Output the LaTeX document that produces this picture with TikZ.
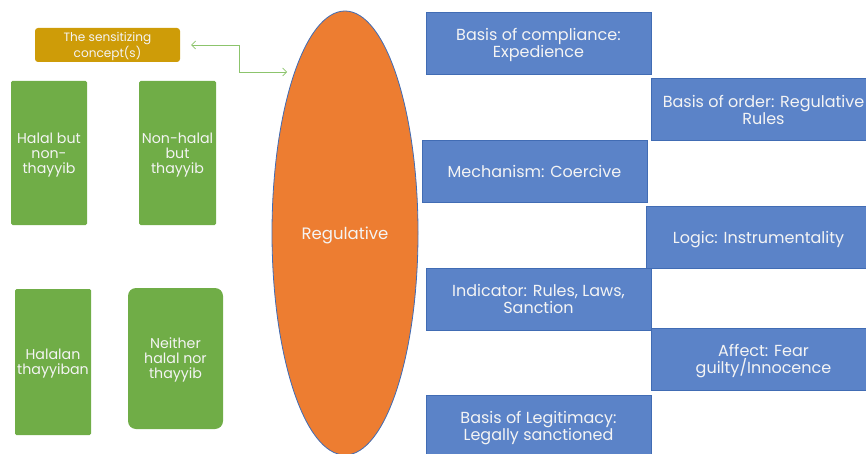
\documentclass[tikz,border=0pt]{standalone}
\usepackage{fontspec}
\setmainfont{Poppins}
\usetikzlibrary{shapes.geometric,arrows.meta}

\definecolor{boxblue}{RGB}{91,131,200}
\definecolor{edgeblue}{RGB}{65,108,180}
\definecolor{regorange}{RGB}{237,125,49}
\definecolor{leafgreen}{RGB}{112,173,71}
\definecolor{conceptgold}{RGB}{206,156,8}
\definecolor{linkgreen}{RGB}{140,196,108}
\definecolor{paletext}{RGB}{244,244,244}

\tikzset{
  every node/.style={text depth=0pt},
  attrbox/.style={draw=edgeblue, line width=0.8pt, fill=boxblue, text=paletext,
    minimum width=225pt, minimum height=62pt, inner sep=0pt, align=center,
    font=\fontsize{16}{17}\selectfont},
  catbox/.style={fill=leafgreen, text=paletext, minimum width=76pt,
    minimum height=144pt, inner sep=0pt, align=center,
    font=\fontsize{14.2}{15}\selectfont},
  conceptbox/.style={fill=conceptgold, rounded corners=3pt, text=paletext,
    minimum width=145pt, minimum height=34pt, inner sep=0pt, align=center,
    font=\fontsize{12.1}{13}\selectfont},
  link/.style={draw=linkgreen, line width=0.7pt,
    {Straight Barb[length=4pt,width=8pt]}-{Straight Barb[length=4pt,width=8pt]}}
}

\begin{document}
\begin{tikzpicture}[x=1pt,y=-1pt]
\useasboundingbox (0,0) rectangle (866,454);

% pillar ellipse
\node[ellipse, draw=edgeblue, line width=0.8pt, fill=regorange, text=paletext,
  minimum width=146pt, minimum height=444pt, inner sep=0pt,
  font=\fontsize{16.5}{17}\selectfont] (reg) at (345,233) {Regulative};

% sensitizing concept and its link to the pillar
\node[conceptbox] (concept) at (107.5,45) {The sensitizing\\concept(s)};
\coordinate (linkend) at (287,72);
\draw[link] ([xshift=11pt]concept.east) -- ++(48,0) |- (linkend);

% halal / thayyib categories
\node[catbox, rounded corners=1.5pt] (hnt) at (49,153) {Halal but\\non-\\thayyib};
\node[catbox, rounded corners=1.5pt, minimum width=77pt] (nht) at (177.5,153) {Non-halal\\but\\thayyib};
\node[catbox, rounded corners=1.5pt, minimum height=146pt] (ht) at (53,362) {Halalan\\thayyiban};
\node[catbox, rounded corners=8pt, minimum width=95pt, minimum height=141pt] (nn) at (175.5,358.5) {Neither\\halal nor\\thayyib};

% attributes of the regulative pillar
\node[attrbox] (compliance) at (538.5,43) {Basis of compliance:\\Expedience};
\node[attrbox] (order) at (763.5,109.5) {Basis of order: Regulative\\Rules};
\node[attrbox] (mechanism) at (534.5,171) {Mechanism: Coercive};
\node[attrbox] (logic) at (758.5,237.5) {Logic: Instrumentality};
\node[attrbox] (indicator) at (538.5,299) {Indicator: Rules, Laws,\\Sanction};
\node[attrbox] (affect) at (763.5,359) {Affect: Fear\\guilty/Innocence};
\node[attrbox] (legitimacy) at (538.5,426) {Basis of Legitimacy:\\Legally sanctioned};
\end{tikzpicture}
\end{document}
